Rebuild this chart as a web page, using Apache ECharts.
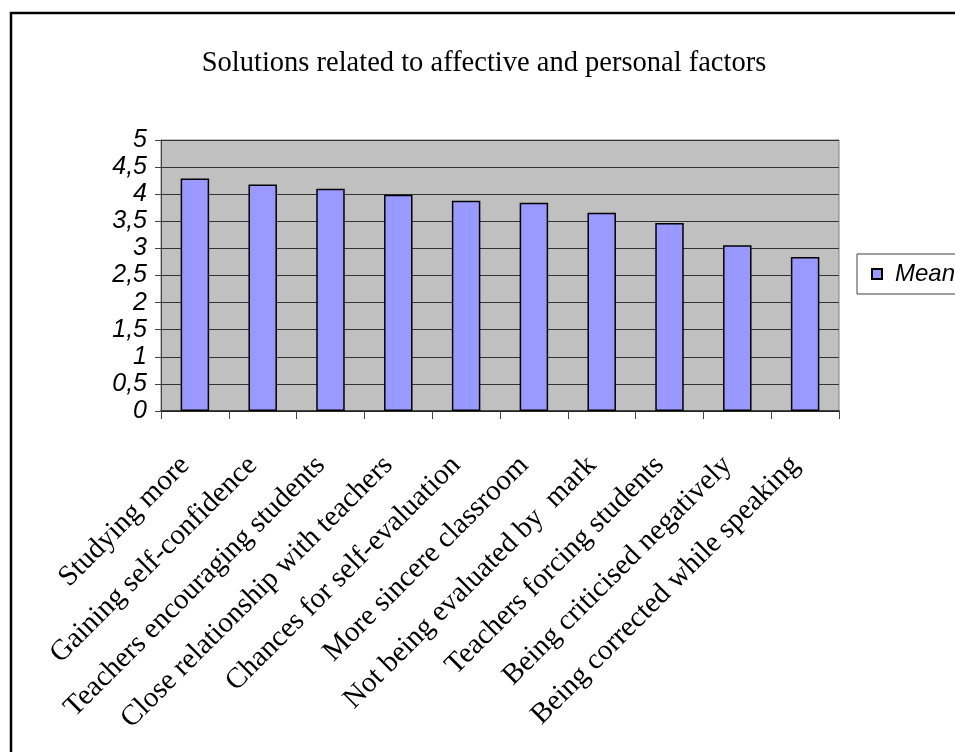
<!DOCTYPE html>
<html>
<head>
<meta charset="utf-8">
<script src="https://cdn.jsdelivr.net/npm/echarts@6/dist/echarts.min.js"></script>
<style>
  html, body { margin: 0; padding: 0; background: #ffffff; }
  #chart { width: 955px; height: 752px; }
</style>
</head>
<body>
<div id="chart"></div>
<script>
// Survey results: mean agreement per proposed solution
const categories = [
  'Studying more',
  'Gaining self-confidence',
  'Teachers encouraging students',
  'Close relationship with teachers',
  'Chances for self-evaluation',
  'More sincere classroom',
  'Not being evaluated by  mark',
  'Teachers forcing students',
  'Being criticised negatively',
  'Being corrected while speaking'
];
const meanValues = [4.29, 4.18, 4.1, 3.99, 3.88, 3.84, 3.66, 3.47, 3.06, 2.84];
const seriesName = 'Mean';
const chartTitle = 'Solutions related to affective and personal factors';

const chart = echarts.init(document.getElementById('chart'));

chart.setOption({
  animation: false,
  backgroundColor: '#ffffff',
  title: {
    text: chartTitle,
    left: 479,
    top: 44,
    textAlign: 'center',
    textStyle: {
      fontFamily: 'Liberation Serif',
      fontSize: 28.5,
      fontWeight: 'normal',
      color: '#000000'
    }
  },
  legend: {
    left: 857,
    top: 254,
    orient: 'vertical',
    backgroundColor: '#ffffff',
    borderColor: '#404040',
    borderWidth: 1,
    padding: [8, 40, 8, 14],
    itemWidth: 10,
    itemHeight: 10,
    itemGap: 0,
    icon: 'rect',
    textStyle: {
      fontFamily: 'Liberation Sans',
      fontStyle: 'italic',
      fontSize: 24,
      color: '#000000',
      padding: [0, 0, 0, 8]
    },
    data: [seriesName]
  },
  grid: {
    left: 161,
    right: 116,
    top: 140,
    bottom: 341,
    show: true,
    backgroundColor: '#c0c0c0',
    borderColor: '#808080',
    borderWidth: 1
  },
  xAxis: {
    type: 'category',
    data: categories,
    axisLine: { show: true, lineStyle: { color: '#222222', width: 1.5 } },
    axisTick: { show: true, length: 8, alignWithLabel: false, lineStyle: { color: '#444444' } },
    axisLabel: {
      rotate: 45,
      interval: 0,
      margin: 40,
      padding: [0, 14, 0, 0],
      fontFamily: 'Liberation Serif',
      fontSize: 29,
      color: '#000000'
    },
    splitLine: { show: false }
  },
  yAxis: {
    type: 'value',
    min: 0,
    max: 5,
    interval: 0.5,
    axisLine: { show: true, lineStyle: { color: '#444444' } },
    axisTick: { show: true, length: 6, lineStyle: { color: '#444444' } },
    axisLabel: {
      margin: 14,
      fontFamily: 'Liberation Sans',
      fontStyle: 'italic',
      fontSize: 25,
      color: '#000000',
      formatter: function (v) { return String(v).replace('.', ','); }
    },
    splitLine: { show: true, lineStyle: { color: '#333333', width: 1 } }
  },
  series: [{
    name: seriesName,
    type: 'bar',
    data: meanValues,
    barWidth: '42%',
    itemStyle: {
      color: '#9999ff',
      borderColor: '#000000',
      borderWidth: 1.5
    }
  }],
  graphic: [{
    type: 'polyline',
    shape: { points: [[11, 752], [11, 13], [955, 13]] },
    style: { stroke: '#000000', lineWidth: 2.5, fill: null },
    z: 100
  }]
});
</script>
</body>
</html>
